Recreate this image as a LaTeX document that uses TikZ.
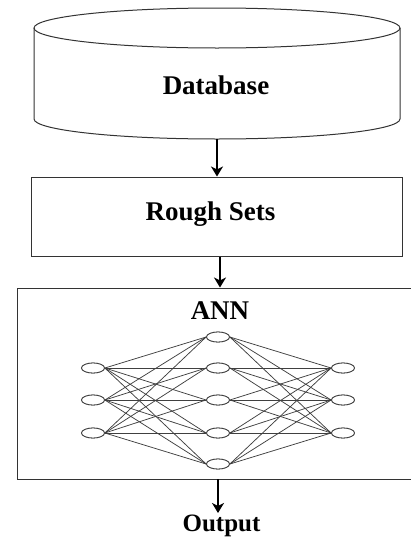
\documentclass[tikz,border=0pt]{standalone}
\usepackage{fontspec}
\setmainfont{Liberation Serif}
\usetikzlibrary{arrows.meta,calc,shapes.geometric}
\begin{document}
\begin{tikzpicture}[x=1pt,y=-1pt,
  outline/.style={draw=black!80,line width=1pt},
  lbl/.style={font=\bfseries\fontsize{27}{32}\selectfont,inner sep=0pt},
  arr/.style={line width=2.2pt,-{Stealth[length=10pt,width=12pt,inset=3pt]}},
  neuron/.style={ellipse,draw=black!75,line width=0.8pt,minimum width=23pt,minimum height=10pt,inner sep=0pt,fill=white},
  syn/.style={draw=black!75,line width=0.75pt}]
\clip (0,0) rectangle (411,544);
\useasboundingbox (0,0) rectangle (411,544);
% database cylinder
\draw[outline,fill=white] (34,28) -- (34,119) arc[start angle=180,end angle=360,x radius=183pt,y radius=20pt] -- (400,28);
\draw[outline] (217,28) ellipse [x radius=183pt,y radius=20pt];
\node[lbl] (db) at (216,85) {Database};
\coordinate (dbb) at (217,139);
% rough sets
\node[outline,rectangle,minimum width=371pt,minimum height=79pt,inner sep=0pt] (rs) at (216.5,216.5) {};
\node[lbl] (rst) at (210.5,214) {Rough Sets};
\coordinate (rsb) at (220,256.5);
% ann box
\node[outline,rectangle,minimum width=400pt,minimum height=191pt,inner sep=0pt] (ann) at (217,383.5) {};
\node[lbl] (annt) at (220,311) {ANN};
% network
\foreach \i/\y in {1/368,2/400,3/433} {
  \node[neuron] (L\i) at (93,\y) {};
  \node[neuron] (R\i) at (343,\y) {};
}
\foreach \i/\y in {1/337,2/368,3/400,4/433,5/464} {
  \node[neuron] (M\i) at (218,\y) {};
}
\foreach \i in {1,2,3} {
  \foreach \j in {1,...,5} {
    \draw[syn] (L\i.east) -- (M\j.west);
    \draw[syn] (M\j.east) -- (R\i.west);
  }
}
% redraw neurons on top
\foreach \i/\y in {1/368,2/400,3/433} {
  \node[neuron] at (93,\y) {};
  \node[neuron] at (343,\y) {};
}
\foreach \i/\y in {1/337,2/368,3/400,4/433,5/464} {
  \node[neuron] at (218,\y) {};
}
% output
\node[lbl,font=\bfseries\fontsize{25}{30}\selectfont] (out) at (221.5,526) {Output};
\coordinate (annb) at (218,479);
\coordinate (outt) at (218,513);
% arrows
\draw[arr] (dbb) -- (dbb |- rs.north);
\draw[arr] (rsb) -- (rsb |- ann.north);
\draw[arr] (annb) -- (outt);
\end{tikzpicture}
\end{document}
